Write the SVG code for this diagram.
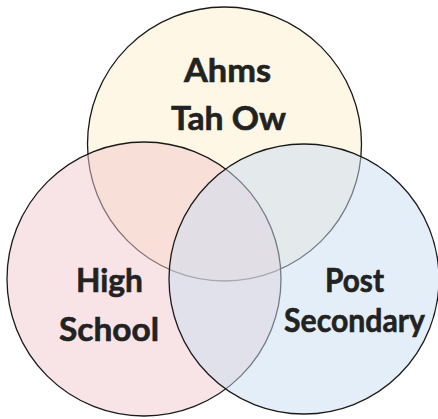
<svg xmlns="http://www.w3.org/2000/svg" width="438" height="419" viewBox="0 0 438 419">
<style>
.c{stroke:#1a1a1a;stroke-width:1.3}
.t{font-family:Lato,"Open Sans",sans-serif;font-weight:700;font-size:33px;fill:#222;stroke:#222;stroke-width:0.6;text-anchor:middle}
</style>
<rect width="438" height="419" fill="#fff"/>
<g id="ahms">
<circle class="c" cx="224.5" cy="144" r="137" fill="#FEF7E5"/>
<text class="t" x="227.5" y="82" textLength="87" lengthAdjust="spacingAndGlyphs">Ahms</text>
<text class="t" x="228.5" y="130" textLength="115" lengthAdjust="spacingAndGlyphs">Tah Ow</text>
</g>
<g id="highschool">
<circle class="c" cx="144" cy="279" r="137" fill="rgb(241,201,205)" fill-opacity="0.5"/>
</g>
<g id="postsecondary">
<circle class="c" cx="304" cy="279" r="135" fill="rgb(201,221,241)" fill-opacity="0.5"/>
</g>
<g id="labels">
<text class="t" x="109.5" y="292" textLength="67" lengthAdjust="spacingAndGlyphs">High</text>
<text class="t" x="109" y="341" textLength="100" lengthAdjust="spacingAndGlyphs">School</text>
<text class="t" x="354.5" y="292" textLength="59" lengthAdjust="spacingAndGlyphs">Post</text>
<text class="t" x="354.5" y="332" textLength="141" lengthAdjust="spacingAndGlyphs">Secondary</text>
</g>
<g id="connectors"/>
</svg>
